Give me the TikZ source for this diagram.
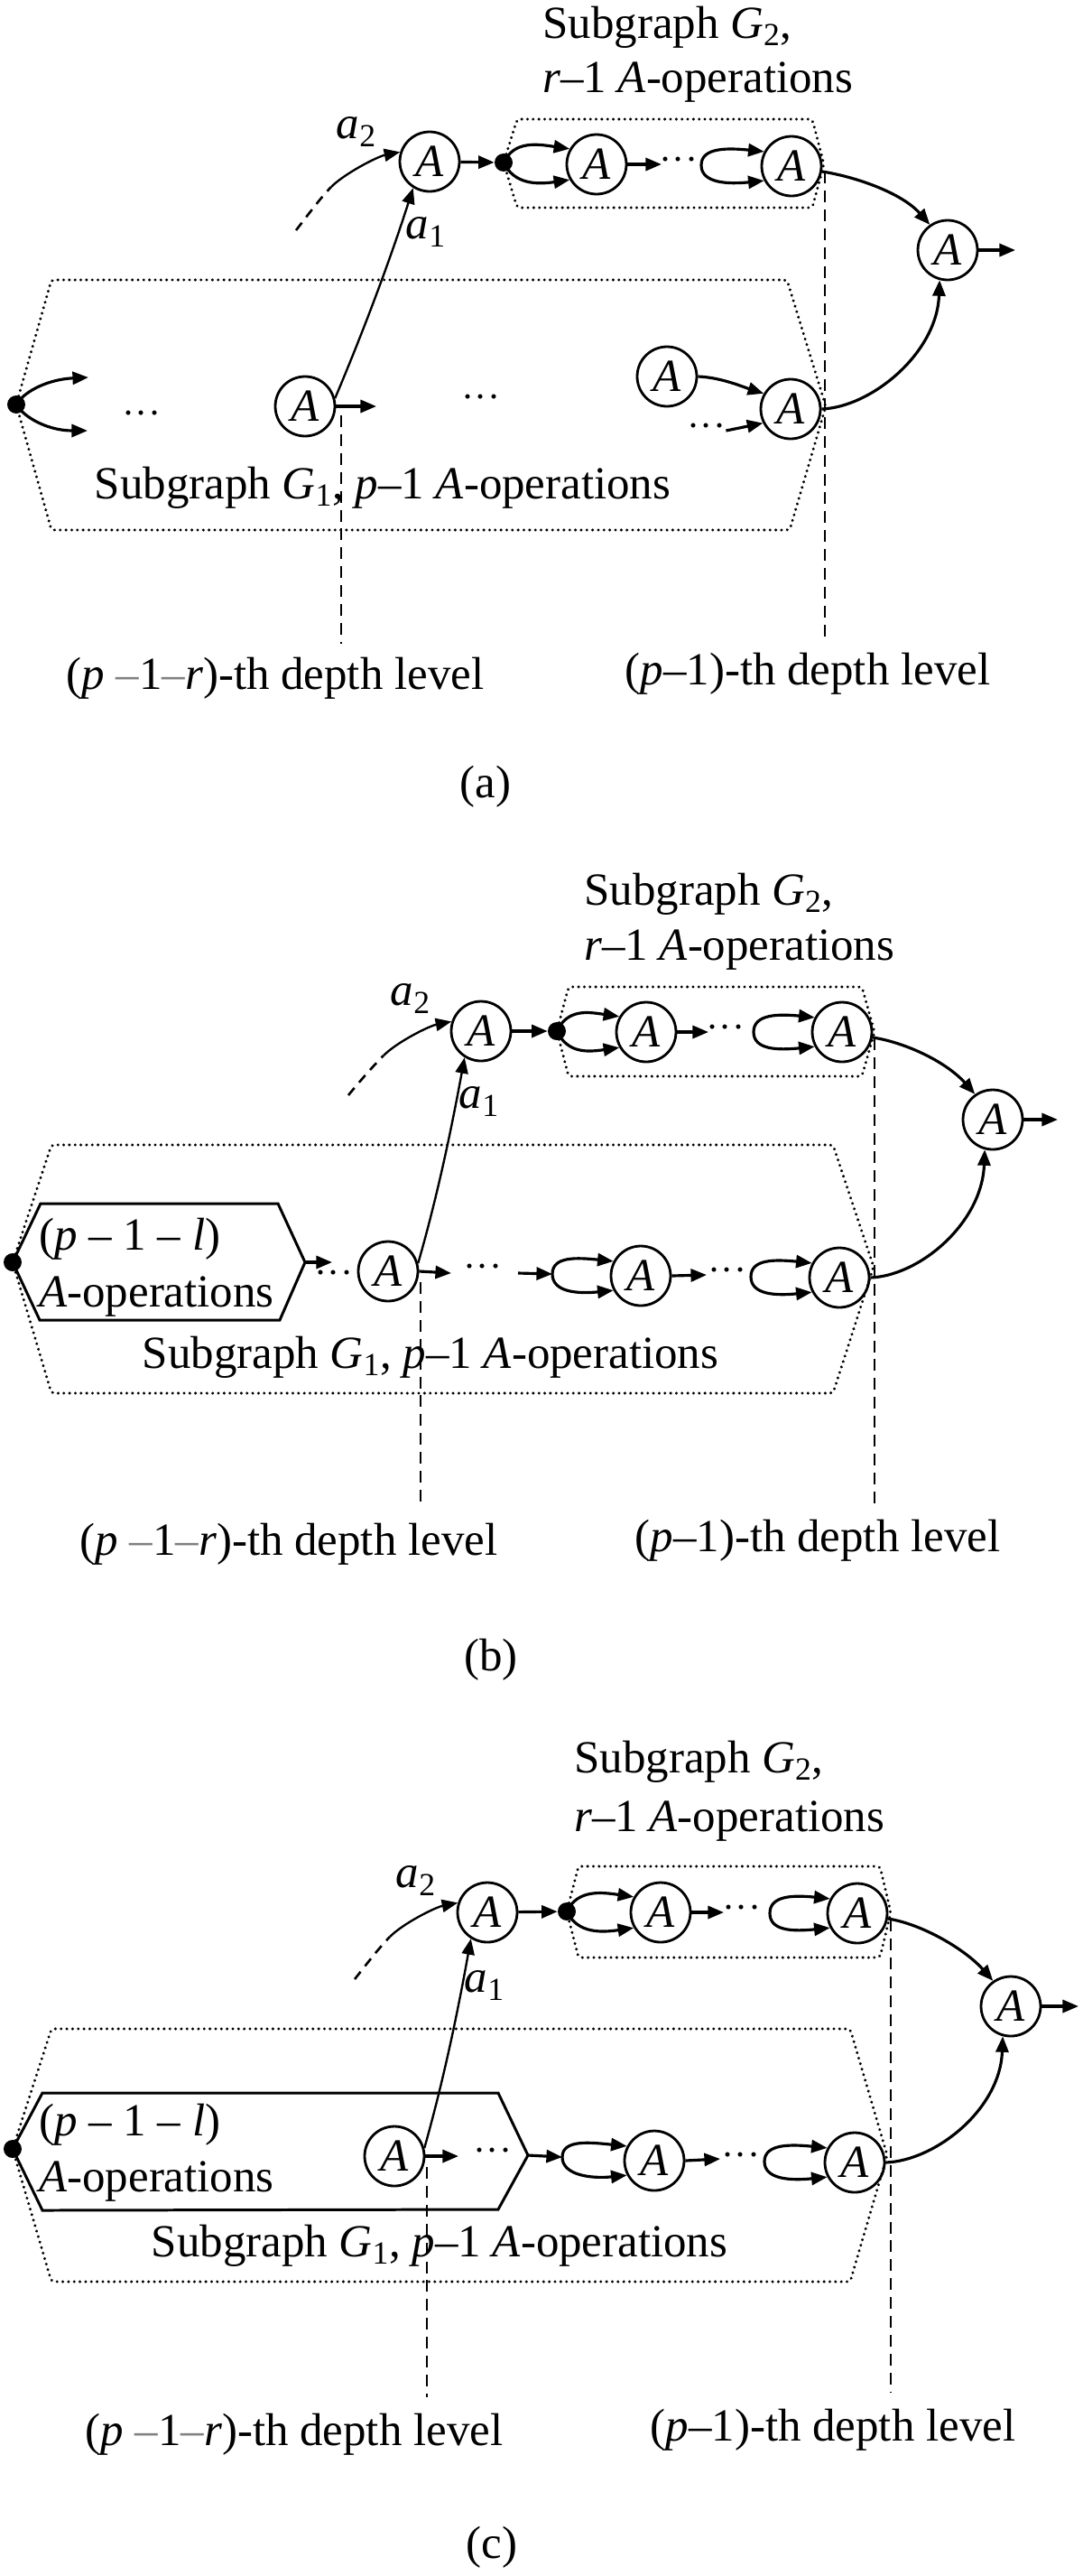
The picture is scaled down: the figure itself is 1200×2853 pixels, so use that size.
\documentclass[tikz,border=0pt]{standalone}
\usepackage{fontspec}
\setmainfont{Liberation Serif}
\usetikzlibrary{arrows.meta}
\newcommand{\figfont}{\fontsize{29}{34}\selectfont}
\newcommand{\dotfont}{\fontsize{24}{24}\selectfont}
\begin{document}
\begin{tikzpicture}[x=0.02cm,y=-0.02cm,
  txt/.style={inner sep=0pt,font=\figfont},
  op/.style={circle,draw,line width=1.6pt,minimum size=1.32cm,inner sep=0pt,font=\figfont\itshape},
  blob/.style={circle,fill,inner sep=0pt,minimum size=0.4cm},
  arr/.style={-{Triangle[length=10pt,width=8pt]},line width=1.8pt},
  slim/.style={-{Triangle[length=10pt,width=8pt]},line width=1.35pt},
  subbox/.style={line width=1.9pt,line cap=round,dash pattern=on 0.01pt off 3.6pt,rounded corners=2pt},
  opsbox/.style={line width=1.7pt},
  depth/.style={line width=1.5pt,dash pattern=on 7.4pt off 4.5pt},
  arcdash/.style={line width=1.5pt,dash pattern=on 6pt off 4.5pt},
  ell/.style={inner sep=0pt,font=\dotfont}
]
\path[use as bounding box,fill=white] (0,0) rectangle (1200,2853);

% =================== (a) ===================
\node[txt,anchor=base west] (aT1) at (601,42) {Subgraph {\itshape G}\textsubscript{2},};
\node[txt,anchor=base west] (aT2) at (601,102) {{\itshape r}–1 {\itshape A}-operations};
\node[op] (aA) at (476,179) {A};
\node[blob] (aJ) at (558,180) {};
\node[op] (aG1) at (661,182) {A};
\coordinate (aG1o) at (733,182);
\node[ell] (aE1) at (752,182) {···};
\coordinate (aL2) at (777,183);
\node[op] (aG2) at (877,184) {A};
\node[op] (aR) at (1050,277) {A};
\coordinate (aRo) at (1125,277);
\node[txt] (aa2) at (395,146) {{\itshape a}\textsubscript{2}};
\node[txt] (aa1) at (472,257) {{\itshape a}\textsubscript{1}};
\coordinate (aS) at (328,255);
\coordinate (aM) at (367,207);
\draw[subbox] (aJ.center) -- (573,132) -- (900,132) -- (913,182) -- (900,230) -- (573,230) -- cycle;

\node[blob] (aD) at (18,448) {};
\draw[subbox] (aD.center) -- (57,310) -- (872,310) -- (915,450) -- (875,587) -- (57,587) -- cycle;
\coordinate (aF1) at (98,418);
\coordinate (aF2) at (97,477);
\node[ell] (aE2) at (157,463) {···};
\node[op] (aB2) at (338,450) {A};
\coordinate (aB2o) at (417,450);
\node[ell] (aE3) at (533,445) {···};
\node[op] (aB3) at (739,417) {A};
\node[op] (aB4) at (876,453) {A};
\node[ell] (aE4) at (783,477) {···};
\node[txt,anchor=base] (aT3) at (424,552) {Subgraph {\itshape G}\textsubscript{1}, {\itshape p}–1 {\itshape A}-operations};
\coordinate (aV1t) at (378,460); \coordinate (aV1b) at (378,713);
\coordinate (aV2t) at (914,190); \coordinate (aV2b) at (914,708);
\node[txt,anchor=base] (aL1) at (305,763) {({\itshape p} {\color{gray}–}1{\color{gray}–}{\itshape r})-th depth level};
\node[txt,anchor=base] (aL2t) at (895,758) {({\itshape p}–1)-th depth level};
\node[txt,anchor=base] (acap) at (538,883) {(a)};

\draw[arr] (aA) -- (aJ);
\draw[arr] (aJ.center) .. controls +(12,-25) and +(-35,-5) .. (aG1.150);
\draw[arr] (aJ.center) .. controls +(12,25) and +(-35,5) .. (aG1.210);
\draw[arr] (aG1.east) -- (aG1o);
\draw[arr] (aL2) .. controls +(0,-20) and +(-40,-4) .. (aG2.152);
\draw[arr] (aL2) .. controls +(0,20) and +(-40,4) .. (aG2.208);
\draw[arr] (aG2.-10) .. controls +(38,6) and +(-31,-35) .. (aR.125);
\draw[arr] (aR.east) -- (aRo);
\draw[arr] (aB4.east) .. controls +(55,-2) and +(-3,81) .. (aR.255);
\draw[arcdash] (aS) .. controls +(8,-10) and +(-12,12) .. (aM);
\draw[slim] (aM) .. controls +(15,-15) and +(-25,5) .. (aA.162);
\draw[slim] (aB2.15) .. controls +(33,-78) and +(-25,78) .. (aA.238);
\draw[arr] (aD.center) .. controls +(10,-16) and +(-43,2) .. (aF1);
\draw[arr] (aD.center) .. controls +(10,16) and +(-42,0) .. (aF2);
\draw[arr] (aB2.east) -- (aB2o);
\draw[arr] (aB3.east) .. controls +(25,1) and +(-25,-8) .. (aB4.150);
\draw[arr] (aE4.east) -- (aB4.207);
\draw[depth] (aV1t) -- (aV1b);
\draw[depth] (aV2t) -- (aV2b);

% =================== (b) ===================
\node[txt,anchor=base west] (bT1) at (647,1002) {Subgraph {\itshape G}\textsubscript{2},};
\node[txt,anchor=base west] (bT2) at (647,1063) {{\itshape r}–1 {\itshape A}-operations};
\node[op] (bA) at (533,1142) {A};
\node[blob] (bJ) at (617,1142) {};
\node[op] (bG1) at (716,1143) {A};
\coordinate (bG1o) at (785,1143);
\node[ell] (bE1) at (804,1143) {···};
\coordinate (bL2) at (835,1143);
\node[op] (bG2) at (933,1143) {A};
\node[op] (bR) at (1100,1240) {A};
\coordinate (bRo) at (1172,1240);
\node[txt] (ba2) at (455,1106) {{\itshape a}\textsubscript{2}};
\node[txt] (ba1) at (531,1220) {{\itshape a}\textsubscript{1}};
\coordinate (bS) at (386,1213);
\coordinate (bM) at (425,1169);
\draw[subbox] (bJ.center) -- (630,1093) -- (955,1093) -- (969,1143) -- (955,1192) -- (630,1192) -- cycle;

\node[blob] (bD) at (14,1398) {};
\draw[subbox] (bD.center) -- (57,1268) -- (923,1268) -- (968,1403) -- (923,1543) -- (57,1543) -- cycle;
\draw[opsbox] (bD.center) -- (45,1333) -- (308,1333) -- (338,1398) -- (310,1462) -- (44,1462) -- cycle;
\node[txt,anchor=base west] (bH1) at (43,1384) {({\itshape p} – 1 – {\itshape l})};
\node[txt,anchor=base west] (bH2) at (43,1447) {{\itshape A}-operations};
\coordinate (bHr) at (338,1398);
\coordinate (bHo) at (368,1398);
\node[ell] (bE2) at (370,1415) {···};
\node[op] (bB2) at (430,1408) {A};
\coordinate (bB2o) at (500,1410);
\node[ell] (bE3) at (535,1408) {···};
\coordinate (bE3o) at (574,1410);
\coordinate (bL3) at (612,1411);
\node[op] (bB3) at (710,1413) {A};
\coordinate (bB3o) at (783,1412);
\node[ell] (bE4) at (806,1412) {···};
\coordinate (bL4) at (832,1414);
\node[op] (bB4) at (930,1415) {A};
\node[txt,anchor=base] (bT3) at (477,1515) {Subgraph {\itshape G}\textsubscript{1}, {\itshape p}–1 {\itshape A}-operations};
\coordinate (bV1t) at (466,1420); \coordinate (bV1b) at (466,1667);
\coordinate (bV2t) at (969,1150); \coordinate (bV2b) at (969,1665);
\node[txt,anchor=base] (bL1) at (320,1722) {({\itshape p} {\color{gray}–}1{\color{gray}–}{\itshape r})-th depth level};
\node[txt,anchor=base] (bL2t) at (906,1718) {({\itshape p}–1)-th depth level};
\node[txt,anchor=base] (bcap) at (544,1850) {(b)};

\draw[arr] (bA) -- (bJ);
\draw[arr] (bJ.center) .. controls +(12,-25) and +(-35,-5) .. (bG1.150);
\draw[arr] (bJ.center) .. controls +(12,25) and +(-35,5) .. (bG1.210);
\draw[arr] (bG1.east) -- (bG1o);
\draw[arr] (bL2) .. controls +(0,-20) and +(-40,-4) .. (bG2.152);
\draw[arr] (bL2) .. controls +(0,20) and +(-40,4) .. (bG2.208);
\draw[arr] (bG2.-10) .. controls +(38,6) and +(-31,-35) .. (bR.125);
\draw[arr] (bR.east) -- (bRo);
\draw[arr] (bB4.east) .. controls +(55,-2) and +(-3,81) .. (bR.255);
\draw[arcdash] (bS) .. controls +(8,-10) and +(-12,12) .. (bM);
\draw[slim] (bM) .. controls +(15,-15) and +(-25,5) .. (bA.162);
\draw[slim] (bB2.15) .. controls +(22,-76) and +(-14,76) .. (bA.238);
\draw[arr] (bHr) -- (bHo);
\draw[arr] (bB2.east) -- (bB2o);
\draw[arr] (bE3o) -- (bL3);
\draw[arr] (bL3) .. controls +(0,-20) and +(-40,-4) .. (bB3.152);
\draw[arr] (bL3) .. controls +(0,20) and +(-40,4) .. (bB3.208);
\draw[arr] (bB3.east) -- (bB3o);
\draw[arr] (bL4) .. controls +(0,-20) and +(-40,-4) .. (bB4.152);
\draw[arr] (bL4) .. controls +(0,20) and +(-40,4) .. (bB4.208);
\draw[depth] (bV1t) -- (bV1b);
\draw[depth] (bV2t) -- (bV2b);

% =================== (c) ===================
\node[txt,anchor=base west] (cT1) at (636,1963) {Subgraph {\itshape G}\textsubscript{2},};
\node[txt,anchor=base west] (cT2) at (636,2028) {{\itshape r}–1 {\itshape A}-operations};
\node[op] (cA) at (540,2118) {A};
\node[blob] (cJ) at (628,2117) {};
\node[op] (cG1) at (732,2118) {A};
\coordinate (cG1o) at (802,2118);
\node[ell] (cE1) at (822,2118) {···};
\coordinate (cL2) at (853,2119);
\node[op] (cG2) at (950,2119) {A};
\node[op] (cR) at (1120,2222) {A};
\coordinate (cRo) at (1195,2222);
\node[txt] (ca2) at (461,2083) {{\itshape a}\textsubscript{2}};
\node[txt] (ca1) at (537,2199) {{\itshape a}\textsubscript{1}};
\coordinate (cS) at (393,2192);
\coordinate (cM) at (432,2145);
\draw[subbox] (cJ.center) -- (641,2067) -- (975,2067) -- (987,2118) -- (975,2168) -- (641,2168) -- cycle;

\node[blob] (cD) at (14,2380) {};
\draw[subbox] (cD.center) -- (57,2247) -- (942,2247) -- (983,2387) -- (942,2527) -- (57,2527) -- cycle;
\draw[opsbox] (cD.center) -- (47,2318) -- (552,2318) -- (585,2387) -- (552,2447) -- (47,2448) -- cycle;
\node[txt,anchor=base west] (cH1) at (43,2365) {({\itshape p} – 1 – {\itshape l})};
\node[txt,anchor=base west] (cH2) at (43,2427) {{\itshape A}-operations};
\node[op] (cB2) at (437,2388) {A};
\coordinate (cB2o) at (508,2388);
\node[ell] (cE2) at (546,2387) {···};
\coordinate (cHr) at (585,2387);
\coordinate (cL3) at (623,2389);
\node[op] (cB3) at (725,2393) {A};
\coordinate (cB3o) at (798,2391);
\node[ell] (cE4) at (821,2392) {···};
\coordinate (cL4) at (847,2394);
\node[op] (cB4) at (947,2395) {A};
\node[txt,anchor=base] (cT3) at (487,2499) {Subgraph {\itshape G}\textsubscript{1}, {\itshape p}–1 {\itshape A}-operations};
\coordinate (cV1t) at (473,2400); \coordinate (cV1b) at (473,2655);
\coordinate (cV2t) at (987,2126); \coordinate (cV2b) at (987,2650);
\node[txt,anchor=base] (cL1) at (326,2708) {({\itshape p} {\color{gray}–}1{\color{gray}–}{\itshape r})-th depth level};
\node[txt,anchor=base] (cL2t) at (923,2703) {({\itshape p}–1)-th depth level};
\node[txt,anchor=base] (ccap) at (545,2833) {(c)};

\draw[arr] (cA) -- (cJ);
\draw[arr] (cJ.center) .. controls +(12,-25) and +(-35,-5) .. (cG1.150);
\draw[arr] (cJ.center) .. controls +(12,25) and +(-35,5) .. (cG1.210);
\draw[arr] (cG1.east) -- (cG1o);
\draw[arr] (cL2) .. controls +(0,-20) and +(-40,-4) .. (cG2.152);
\draw[arr] (cL2) .. controls +(0,20) and +(-40,4) .. (cG2.208);
\draw[arr] (cG2.-10) .. controls +(38,6) and +(-31,-35) .. (cR.125);
\draw[arr] (cR.east) -- (cRo);
\draw[arr] (cB4.east) .. controls +(55,-2) and +(-3,81) .. (cR.255);
\draw[arcdash] (cS) .. controls +(8,-10) and +(-12,12) .. (cM);
\draw[slim] (cM) .. controls +(15,-15) and +(-25,5) .. (cA.162);
\draw[slim] (cB2.15) .. controls +(22,-78) and +(-14,78) .. (cA.238);
\draw[arr] (cB2.east) -- (cB2o);
\draw[arr] (cHr) -- (cL3);
\draw[arr] (cL3) .. controls +(0,-20) and +(-40,-4) .. (cB3.152);
\draw[arr] (cL3) .. controls +(0,20) and +(-40,4) .. (cB3.208);
\draw[arr] (cB3.east) -- (cB3o);
\draw[arr] (cL4) .. controls +(0,-20) and +(-40,-4) .. (cB4.152);
\draw[arr] (cL4) .. controls +(0,20) and +(-40,4) .. (cB4.208);
\draw[depth] (cV1t) -- (cV1b);
\draw[depth] (cV2t) -- (cV2b);
\end{tikzpicture}
\end{document}
